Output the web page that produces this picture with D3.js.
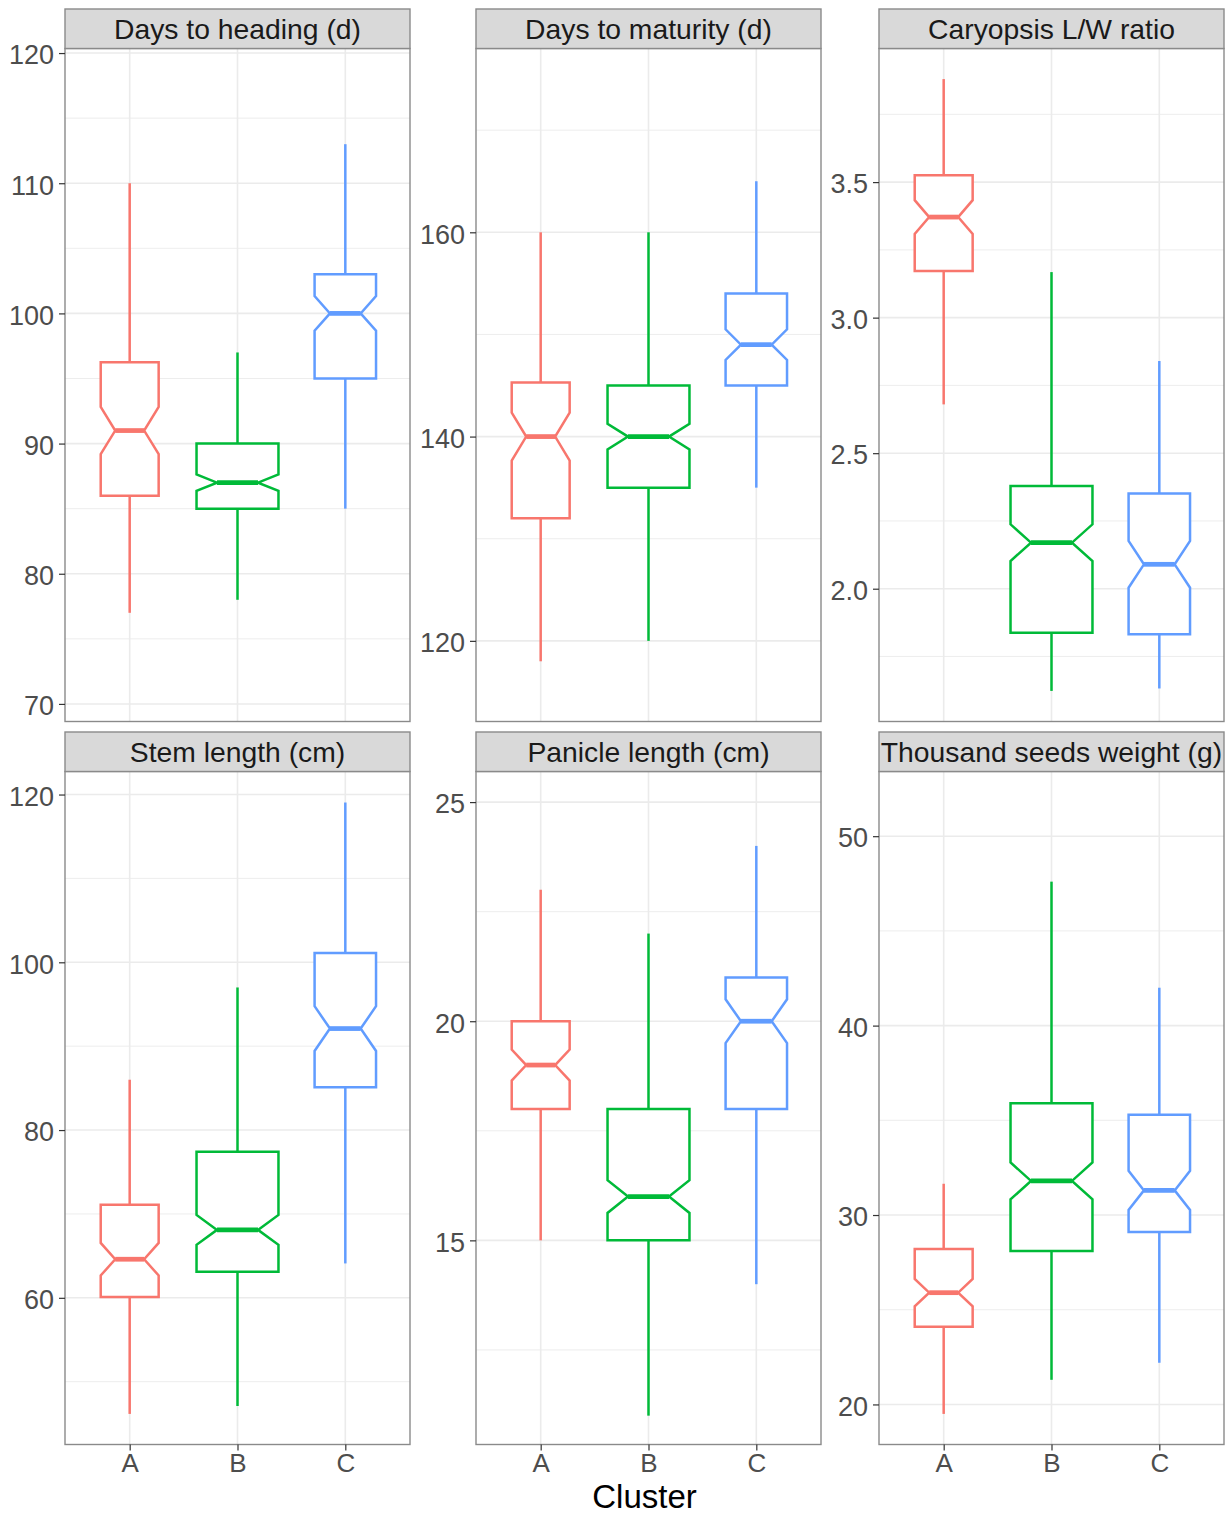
<!DOCTYPE html>
<html>
<head>
<meta charset="utf-8">
<script src="https://cdn.jsdelivr.net/npm/d3@7"></script>
<style>
  html, body { margin: 0; padding: 0; background: #ffffff; }
  svg { display: block; font-family: "Liberation Sans", Arial, Helvetica, sans-serif; }
</style>
</head>
<body>
<svg id="chart" width="1232" height="1515"></svg>
<script>
// Clusters and the number of accessions in each (drives box width and notch size)
const clusters = ["A", "B", "C"];
const clusterSizes = [80, 160, 90];
const clusterColors = ["#F8766D", "#00BA38", "#619CFF"];

// Facet titles
const traitTitles = [
  "Days to heading (d)",
  "Days to maturity (d)",
  "Caryopsis L/W ratio",
  "Stem length (cm)",
  "Panicle length (cm)",
  "Thousand seeds weight (g)"
];

// Five-number summaries per cluster: [lower whisker, Q1, median, Q3, upper whisker]
const headingStats   = [[77, 86, 91, 96.25, 110], [78, 85, 87, 90, 97], [85, 95, 100, 103, 113]];
const maturityStats  = [[118, 132, 140, 145.3, 160], [120, 135, 140, 145, 160], [135, 145, 149, 154, 165]];
const lwRatioStats   = [[2.68, 3.172, 3.371, 3.525, 3.88], [1.623, 1.838, 2.17, 2.379, 3.168], [1.632, 1.832, 2.09, 2.351, 2.84]];
const stemStats      = [[46.16, 60.1, 64.6, 71.1, 86], [47.1, 63.1, 68.1, 77.4, 97], [64.1, 85.1, 92.1, 101.1, 119.05]];
const panicleStats   = [[15, 18, 19, 20, 23], [11, 15, 16, 18, 22], [14, 18, 20, 21, 24]];
const seedWtStats    = [[19.5, 24.1, 25.9, 28.2, 31.65], [21.3, 28.1, 31.8, 35.9, 47.6], [22.2, 29.1, 31.3, 35.3, 42]];
const statsByTrait = [headingStats, maturityStats, lwRatioStats, stemStats, panicleStats, seedWtStats];

// Full observed range of each trait (outliers are not drawn but set the scale)
const observedRanges = [[71, 118], [115.1, 175], [1.623, 3.88], [46.16, 119.1], [11.04, 25], [19.5, 51.8]];

// Y tick values and label formats
const majorTicks = [
  [70, 80, 90, 100, 110, 120],
  [120, 140, 160],
  [2.0, 2.5, 3.0, 3.5],
  [60, 80, 100, 120],
  [15, 20, 25],
  [20, 30, 40, 50]
];
const tickFormats = ["d", "d", ".1f", "d", "d", "d"];

const xTitle = "Cluster";

// ---- layout ----
const colLeft = [65, 476, 879];
const panelW = 345;
const stripTop = [9, 732];
const stripH = 39.5;
const plotH = 673;
const boxWidth = 0.76;      // fraction of category step for the widest box
const notchWidth = 0.5;
const lineW = 2.5;

const svg = d3.select("#chart");
svg.append("rect").attr("width", 1232).attr("height", 1515).attr("fill", "#ffffff");

const maxSqrtN = d3.max(clusterSizes, n => Math.sqrt(n));

traitTitles.forEach((title, i) => {
  const col = i % 3, row = Math.floor(i / 3);
  const left = colLeft[col];
  const right = left + panelW;
  const sTop = stripTop[row];
  const pTop = sTop + stripH;
  const pBot = pTop + plotH;

  const [lo, hi] = observedRanges[i];
  const span = hi - lo;
  const y = d3.scaleLinear().domain([lo - 0.05 * span, hi + 0.05 * span]).range([pBot, pTop]);
  const x = d3.scalePoint().domain(clusters).range([left, right]).padding(0.6);
  const step = x.step();

  const g = svg.append("g");

  // panel background
  g.append("rect").attr("x", left).attr("y", pTop).attr("width", panelW).attr("height", plotH)
    .attr("fill", "#ffffff");

  // minor grid
  const majors = majorTicks[i];
  const d = majors[1] - majors[0];
  const minors = [majors[0] - d / 2].concat(majors.map(v => v + d / 2))
    .filter(v => v > y.domain()[0] && v < y.domain()[1]);
  g.selectAll(".minor").data(minors).enter().append("line")
    .attr("x1", left).attr("x2", right)
    .attr("y1", v => y(v)).attr("y2", v => y(v))
    .attr("stroke", "#ebebeb").attr("stroke-width", 0.9);

  // major grid
  g.selectAll(".major").data(majors).enter().append("line")
    .attr("x1", left).attr("x2", right)
    .attr("y1", v => y(v)).attr("y2", v => y(v))
    .attr("stroke", "#ebebeb").attr("stroke-width", 1.6);
  g.selectAll(".vmajor").data(clusters).enter().append("line")
    .attr("x1", c => x(c)).attr("x2", c => x(c))
    .attr("y1", pTop).attr("y2", pBot)
    .attr("stroke", "#ebebeb").attr("stroke-width", 1.6);

  // notched boxplots
  statsByTrait[i].forEach((s, k) => {
    const [wLo, q1, med, q3, wHi] = s;
    const cx = x(clusters[k]);
    const hw = (boxWidth * step / 2) * Math.sqrt(clusterSizes[k]) / maxSqrtN;
    const notch = 1.58 * (q3 - q1) / Math.sqrt(clusterSizes[k]);
    const nUp = med + notch, nLo = med - notch;
    const indent = hw * (1 - notchWidth);
    const color = clusterColors[k];

    g.append("line").attr("x1", cx).attr("x2", cx).attr("y1", y(q3)).attr("y2", y(wHi))
      .attr("stroke", color).attr("stroke-width", lineW);
    g.append("line").attr("x1", cx).attr("x2", cx).attr("y1", y(q1)).attr("y2", y(wLo))
      .attr("stroke", color).attr("stroke-width", lineW);

    const pts = [
      [cx - hw, y(q3)], [cx - hw, y(nUp)], [cx - hw + indent, y(med)], [cx - hw, y(nLo)],
      [cx - hw, y(q1)], [cx + hw, y(q1)], [cx + hw, y(nLo)], [cx + hw - indent, y(med)],
      [cx + hw, y(nUp)], [cx + hw, y(q3)]
    ];
    g.append("path").attr("d", d3.line()(pts) + "Z")
      .attr("fill", "#ffffff").attr("stroke", color).attr("stroke-width", lineW)
      .attr("stroke-linejoin", "miter");
    g.append("line")
      .attr("x1", cx - hw + indent).attr("x2", cx + hw - indent)
      .attr("y1", y(med)).attr("y2", y(med))
      .attr("stroke", color).attr("stroke-width", lineW * 1.9);
  });

  // panel border
  g.append("rect").attr("x", left).attr("y", pTop).attr("width", panelW).attr("height", plotH)
    .attr("fill", "none").attr("stroke", "#8a8a8a").attr("stroke-width", 1.4);

  // strip
  g.append("rect").attr("x", left).attr("y", sTop).attr("width", panelW).attr("height", stripH)
    .attr("fill", "#d9d9d9").attr("stroke", "#8a8a8a").attr("stroke-width", 1.4);
  g.append("text").attr("x", left + panelW / 2).attr("y", sTop + stripH / 2)
    .attr("dy", "0.36em").attr("text-anchor", "middle")
    .attr("font-size", 28.3).attr("fill", "#1a1a1a").text(title);

  // y axis
  const yAxis = d3.axisLeft(y).tickValues(majors).tickFormat(d3.format(tickFormats[i]))
    .tickSize(6).tickPadding(5);
  const ya = g.append("g").attr("transform", `translate(${left},0)`).call(yAxis);
  ya.select(".domain").remove();
  ya.selectAll(".tick line").attr("stroke", "#333333").attr("stroke-width", 1.2);
  ya.selectAll(".tick text").attr("font-size", 27).attr("fill", "#4d4d4d")
    .attr("dy", "0.4em")
    .attr("font-family", "Liberation Sans, Arial, sans-serif");

  // x axis on the bottom row
  if (row === 1) {
    const xAxis = d3.axisBottom(x).tickSize(6).tickPadding(3.5);
    const xa = g.append("g").attr("transform", `translate(0,${pBot})`).call(xAxis);
    xa.select(".domain").remove();
    xa.selectAll(".tick line").attr("stroke", "#333333").attr("stroke-width", 1.2);
    xa.selectAll(".tick text").attr("font-size", 26).attr("fill", "#4d4d4d")
      .attr("font-family", "Liberation Sans, Arial, sans-serif");
  }
});

// shared x-axis title
svg.append("text").attr("x", (colLeft[0] + colLeft[2] + panelW) / 2).attr("y", 1507.5)
  .attr("text-anchor", "middle").attr("font-size", 33).attr("fill", "#000000").text(xTitle);
</script>
</body>
</html>
